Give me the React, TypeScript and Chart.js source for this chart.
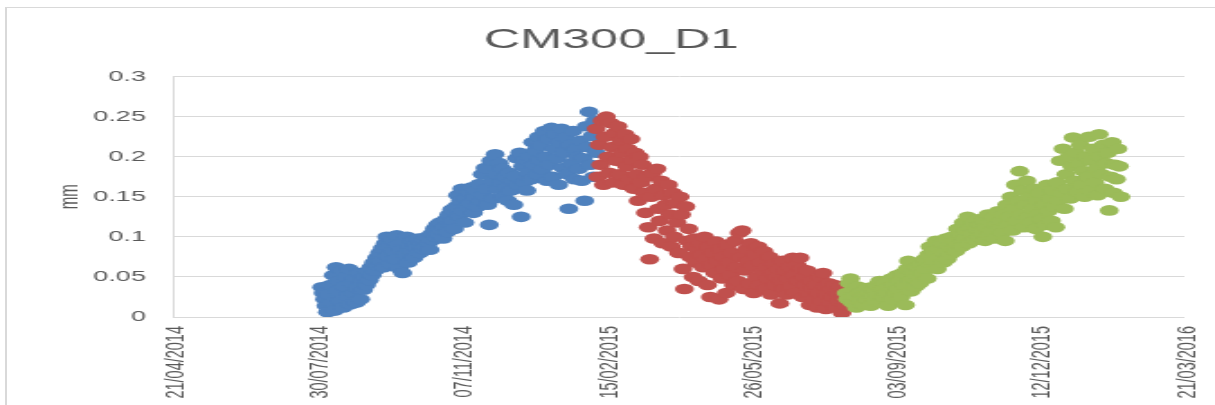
import React, { useEffect, useRef } from "react";
import { Chart, registerables } from "chart.js";

Chart.register(...registerables);

// ---- data -------------------------------------------------------------
const TITLE = "CM300_D1";
const Y_LABEL = "mm";
const X_START_DATE = "2014-04-21"; // first x-axis tick
const X_END_DATE = "2016-03-21"; // last x-axis tick
const X_TICK_STEP_DAYS = 100;
const Y_MIN = 0;
const Y_MAX = 0.3;
const Y_STEP = 0.05;

// daily readings (mm), one value per day from the start date
const blueStart = "2014-08-02";
const blueValues = [
  0.037, 0.030, 0.022, 0.014, 0.006, 0.028, 0.040, 0.018, 0.052, 0.008,
  0.062, 0.032, 0.045, 0.020, 0.058, 0.012, 0.038, 0.050, 0.026, 0.060,
  0.016, 0.042, 0.030, 0.048, 0.018, 0.036, 0.055, 0.022, 0.044, 0.034,
  0.050, 0.040, 0.057, 0.046, 0.062, 0.052, 0.068, 0.058, 0.074, 0.064,
  0.080, 0.070, 0.086, 0.062, 0.092, 0.100, 0.076, 0.088, 0.066, 0.096,
  0.082, 0.072, 0.102, 0.090, 0.060, 0.084, 0.055, 0.094, 0.078, 0.100,
  0.068, 0.088, 0.082, 0.095, 0.074, 0.090, 0.086, 0.098, 0.080, 0.092,
  0.085, 0.096, 0.088, 0.100, 0.092, 0.084, 0.104, 0.096, 0.110, 0.100,
  0.115, 0.104, 0.118, 0.108, 0.098, 0.112, 0.122, 0.106, 0.128, 0.116,
  0.134, 0.120, 0.110, 0.138, 0.152, 0.126, 0.145, 0.160, 0.132, 0.118,
  0.148, 0.138, 0.156, 0.142, 0.162, 0.130, 0.150, 0.158, 0.138, 0.166,
  0.145, 0.178, 0.152, 0.186, 0.160, 0.140, 0.115, 0.195, 0.170, 0.148,
  0.203, 0.178, 0.160, 0.192, 0.168, 0.185, 0.150, 0.175, 0.162, 0.145,
  0.180, 0.158, 0.170, 0.140, 0.176, 0.198, 0.165, 0.205, 0.125, 0.188,
  0.168, 0.196, 0.158, 0.180, 0.200, 0.172, 0.218, 0.190, 0.208, 0.178,
  0.225, 0.196, 0.214, 0.184, 0.232, 0.200, 0.170, 0.222, 0.190, 0.236,
  0.175, 0.210, 0.228, 0.198, 0.165, 0.218, 0.235, 0.186, 0.205, 0.224,
  0.178, 0.135, 0.215, 0.192, 0.232, 0.172, 0.210, 0.200, 0.185, 0.220,
  0.170, 0.198, 0.145, 0.238, 0.212, 0.256, 0.190, 0.226, 0.175, 0.245,
  0.205,
];

const redStart = "2015-02-08";
const redValues = [
  0.235, 0.175, 0.215, 0.190, 0.245, 0.165, 0.225, 0.250, 0.200, 0.180,
  0.242, 0.212, 0.168, 0.230, 0.195, 0.238, 0.178, 0.220, 0.205, 0.165,
  0.228, 0.188, 0.210, 0.172, 0.222, 0.196, 0.160, 0.205, 0.178, 0.145,
  0.200, 0.168, 0.190, 0.155, 0.130, 0.175, 0.112, 0.072, 0.150, 0.180,
  0.098, 0.160, 0.185, 0.135, 0.120, 0.170, 0.092, 0.152, 0.140, 0.108,
  0.165, 0.128, 0.088, 0.155, 0.100, 0.142, 0.118, 0.080, 0.150, 0.128,
  0.060, 0.035, 0.138, 0.095, 0.110, 0.075, 0.088, 0.050, 0.098, 0.068,
  0.085, 0.045, 0.092, 0.078, 0.062, 0.100, 0.072, 0.040, 0.088, 0.025,
  0.065, 0.080, 0.055, 0.094, 0.070, 0.022, 0.085, 0.048, 0.075, 0.060,
  0.030, 0.090, 0.068, 0.052, 0.080, 0.040, 0.095, 0.062, 0.045, 0.105,
  0.075, 0.108, 0.035, 0.058, 0.085, 0.070, 0.042, 0.092, 0.064, 0.030,
  0.078, 0.050, 0.088, 0.040, 0.068, 0.058, 0.082, 0.035, 0.062, 0.048,
  0.075, 0.028, 0.055, 0.066, 0.040, 0.050, 0.060, 0.017, 0.045, 0.070,
  0.035, 0.058, 0.028, 0.048, 0.062, 0.038, 0.074, 0.052, 0.030, 0.065,
  0.045, 0.074, 0.060, 0.025, 0.050, 0.040, 0.058, 0.030, 0.015, 0.045,
  0.035, 0.022, 0.040, 0.012, 0.030, 0.050, 0.020, 0.055, 0.038, 0.010,
  0.028, 0.042, 0.018, 0.035, 0.025, 0.040, 0.012, 0.030, 0.020, 0.038,
  0.005, 0.025, 0.015, 0.032,
];

const greenStart = "2015-07-31";
const greenValues = [
  0.030, 0.022, 0.042, 0.048, 0.018, 0.035, 0.026, 0.012, 0.038, 0.030,
  0.020, 0.032, 0.015, 0.028, 0.036, 0.022, 0.030, 0.014, 0.026, 0.034,
  0.020, 0.040, 0.028, 0.045, 0.018, 0.035, 0.025, 0.042, 0.030, 0.014,
  0.038, 0.048, 0.022, 0.040, 0.030, 0.052, 0.035, 0.045, 0.025, 0.055,
  0.040, 0.015, 0.060, 0.070, 0.045, 0.032, 0.058, 0.048, 0.038, 0.062,
  0.050, 0.042, 0.066, 0.055, 0.072, 0.060, 0.048, 0.078, 0.088, 0.065,
  0.082, 0.070, 0.095, 0.060, 0.085, 0.075, 0.092, 0.068, 0.080, 0.098,
  0.072, 0.088, 0.078, 0.100, 0.085, 0.095, 0.082, 0.110, 0.090, 0.102,
  0.088, 0.118, 0.098, 0.108, 0.125, 0.092, 0.112, 0.104, 0.118, 0.096,
  0.110, 0.122, 0.100, 0.115, 0.105, 0.120, 0.095, 0.112, 0.128, 0.102,
  0.118, 0.108, 0.125, 0.098, 0.115, 0.132, 0.110, 0.120, 0.105, 0.128,
  0.095, 0.140, 0.115, 0.125, 0.150, 0.108, 0.135, 0.165, 0.120, 0.145,
  0.182, 0.128, 0.158, 0.112, 0.140, 0.170, 0.125, 0.150, 0.118, 0.135,
  0.160, 0.110, 0.145, 0.128, 0.155, 0.122, 0.100, 0.140, 0.115, 0.165,
  0.132, 0.148, 0.120, 0.158, 0.138, 0.112, 0.168, 0.145, 0.195, 0.155,
  0.210, 0.135, 0.178, 0.160, 0.200, 0.148, 0.188, 0.224, 0.170, 0.205,
  0.156, 0.192, 0.215, 0.165, 0.182, 0.150, 0.200, 0.175, 0.225, 0.158,
  0.195, 0.210, 0.168, 0.185, 0.152, 0.228, 0.200, 0.178, 0.215, 0.160,
  0.192, 0.205, 0.133, 0.175, 0.218, 0.155, 0.190, 0.172, 0.210, 0.188,
  0.150,
];

// ---- helpers ----------------------------------------------------------
const DAY_MS = 86400000;
const toUTC = (s: string) => {
  const [y, m, d] = s.split("-").map(Number);
  return Date.UTC(y, m - 1, d);
};
const dayOf = (s: string) => Math.round((toUTC(s) - toUTC(X_START_DATE)) / DAY_MS);
const toPoints = (start: string, values: number[]) => {
  const d0 = dayOf(start);
  return values.map((v, i) => ({ x: d0 + i, y: v }));
};
const pad2 = (n: number) => (n < 10 ? "0" : "") + n;
const formatDay = (day: number) => {
  const d = new Date(toUTC(X_START_DATE) + day * DAY_MS);
  return `${pad2(d.getUTCDate())}/${pad2(d.getUTCMonth() + 1)}/${d.getUTCFullYear()}`;
};

const TEXT = "#595959";
const GRID = "#d9d9d9";
const FONT = "'Liberation Sans', Arial, sans-serif";

// the reference is a horizontally stretched rendering
const OUT_W = 1215;
const OUT_H = 405;
const STRETCH = 1.8;
const CANVAS_W = Math.round(OUT_W / STRETCH);
const PAD_LEFT = 21;
const PAD_RIGHT = 17;

export default function App() {
  const ref = useRef<HTMLCanvasElement | null>(null);

  useEffect(() => {
    const canvas = ref.current;
    if (!canvas) return;
    const mk = (label: string, start: string, values: number[], color: string, order: number) => ({
      label,
      data: toPoints(start, values),
      backgroundColor: color,
      borderColor: color,
      pointBackgroundColor: color,
      pointBorderColor: color,
      pointBorderWidth: 0,
      pointRadius: 5.3,
      showLine: false,
      order,
    });
    const chart = new Chart(canvas, {
      type: "scatter",
      data: {
        datasets: [
          mk("Series 1", blueStart, blueValues, "#4F81BD", 3),
          mk("Series 2", redStart, redValues, "#C0504D", 2),
          mk("Series 3", greenStart, greenValues, "#9BBB59", 1),
        ],
      },
      options: {
        responsive: false,
        animation: false,
        events: [],
        devicePixelRatio: 1,
        layout: { padding: { left: PAD_LEFT, right: PAD_RIGHT, top: 0, bottom: 0 } },
        plugins: {
          legend: { display: false },
          tooltip: { enabled: false },
          title: {
            display: true,
            text: TITLE,
            color: TEXT,
            font: { family: FONT, size: 28, weight: "normal" },
            padding: { top: 23, bottom: 20 },
          },
        },
        scales: {
          x: {
            type: "linear",
            min: 0,
            max: dayOf(X_END_DATE),
            grid: { display: false, drawTicks: false },
            border: { display: false },
            ticks: {
              stepSize: X_TICK_STEP_DAYS,
              autoSkip: false,
              minRotation: 90,
              maxRotation: 90,
              padding: 9,
              labelOffset: 1.7,
              color: TEXT,
              font: { family: FONT, size: 14.5 },
              callback: (v: any) => formatDay(Number(v)),
            },
            afterFit: (s: any) => {
              s.height = 88;
              s.paddingLeft = 0;
              s.paddingRight = 0;
            },
          },
          y: {
            min: Y_MIN,
            max: Y_MAX,
            grid: { color: GRID, lineWidth: 1, drawTicks: false },
            border: { display: true, color: GRID, width: 1 },
            ticks: {
              stepSize: Y_STEP,
              padding: 15,
              color: TEXT,
              font: { family: FONT, size: 15 },
              callback: (v: any) => String(+Number(v).toFixed(2)),
            },
            title: {
              display: true,
              text: Y_LABEL,
              color: TEXT,
              font: { family: FONT, size: 15 },
              padding: { top: 30 - PAD_LEFT, bottom: 0 },
            },
            afterFit: (s: any) => {
              s.width = 96 - PAD_LEFT;
            },
          },
        },
      },
    } as any);
    canvas.style.width = OUT_W + "px";
    canvas.style.height = OUT_H + "px";
    return () => chart.destroy();
  }, []);

  return (
    <div
      style={{
        position: "absolute",
        left: 0,
        top: 0,
        width: OUT_W,
        height: OUT_H,
        overflow: "hidden",
        background: "#fff",
      }}
    >
      <div
        style={{
          position: "absolute",
          left: 5,
          top: 7,
          width: OUT_W + 40,
          height: OUT_H + 40,
          borderLeft: `2px solid ${GRID}`,
          borderTop: `1px solid ${GRID}`,
        }}
      />
      <canvas
        ref={ref}
        width={CANVAS_W}
        height={OUT_H}
        style={{ position: "absolute", left: 0, top: 0, width: OUT_W, height: OUT_H }}
      />
    </div>
  );
}
